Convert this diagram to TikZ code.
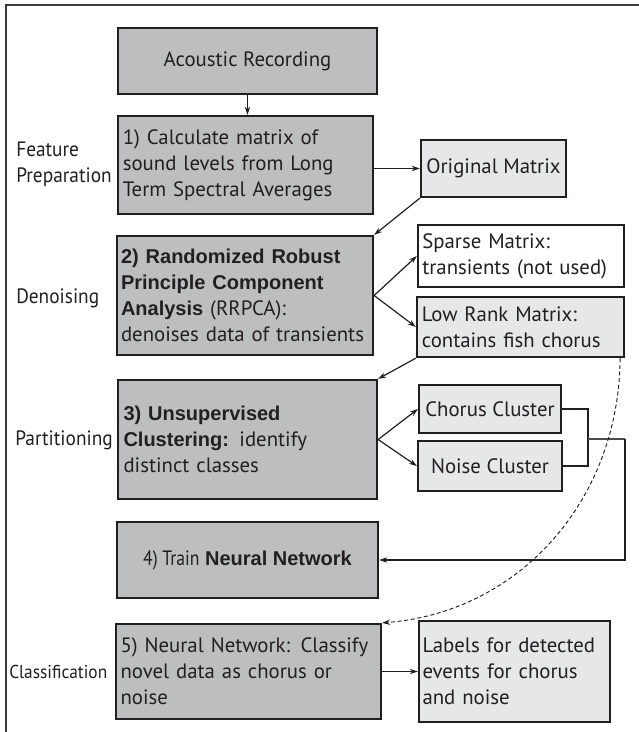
\documentclass[tikz,border=0pt]{standalone}
\usepackage{fontspec}
\setmainfont{PT Sans}
\newfontfamily\arialfont{Liberation Sans}
\newfontfamily\condfont{PT Sans}[FakeStretch=0.85]
\newfontfamily\sidefont{PT Sans}[FakeStretch=0.93]
\usetikzlibrary{arrows.meta,calc}

\hyphenpenalty=10000
\exhyphenpenalty=10000

\definecolor{ink}{HTML}{231F20}
\definecolor{darkfill}{HTML}{BCBEC0}
\definecolor{lightfill}{HTML}{E6E7E8}
\definecolor{framegray}{HTML}{3A3A3A}

% bold run-in heading text
\newcommand{\hd}[1]{{\arialfont\bfseries\fontsize{15}{19.5}\selectfont #1}}

\begin{document}
\begin{tikzpicture}[x=0.75pt,y=-0.75pt,
  every node/.style={text=ink, font=\fontsize{15.6}{19.5}\selectfont},
  stepbox/.style={draw=ink, line width=1.7pt, inner sep=0pt, align=left},
  darkbox/.style={stepbox, fill=darkfill},
  lightbox/.style={stepbox, fill=lightfill},
  whitebox/.style={stepbox, fill=white},
  conn/.style={draw=ink, line width=0.9pt, -{Stealth[length=6pt,width=4pt]}},
  bracket/.style={draw=ink, line width=1.4pt},
  feed/.style={draw=ink!80, line width=0.8pt},
  dashconn/.style={draw=ink, line width=0.7pt, dash pattern=on 3pt off 2pt, -{Stealth[length=6pt,width=4pt]}},
  stagelabel/.style={anchor=west, inner sep=0pt, align=left, font=\sidefont\fontsize{15.6}{19.5}\selectfont}]

\useasboundingbox (0,0) rectangle (639,732);

% frame
\draw[framegray, line width=1.5pt] (6,732) -- (6,5) -- (639,5);

% main pipeline
\node[darkbox, minimum width=194.25pt, minimum height=49.5pt, align=center] (rec) at (247.5,61) {Acoustic Recording};
\node[darkbox, minimum width=191.25pt, minimum height=73.5pt, text width=184pt] (prep) at (245.5,165)
  {1) Calculate matrix of\\sound levels from Long\\Term Spectral Averages};
\node[darkbox, minimum width=192pt, minimum height=89.25pt, text width=186pt] (rpca) at (245,295.5)
  {\hd{2) Randomized Robust}\\\hd{Principle Component}\\\hd{Analysis} (RRPCA):\\denoises data of transients};
\node[darkbox, minimum width=194.25pt, minimum height=89.25pt, text width=186pt] (clus) at (247.5,439.5)
  {\hd{3) Unsupervised}\\\hd{Clustering:} identify\\distinct classes};
\node[darkbox, minimum width=195.75pt, minimum height=57pt, align=center] (train) at (247.5,560)
  {{\condfont 4) Train} \hd{Neural Network}};
\node[darkbox, minimum width=198.75pt, minimum height=71.25pt, text width=192pt] (classify) at (248.5,671.5)
  {5) Neural Network: Classify\\novel data as chorus or\\noise};

% side results
\node[lightbox, minimum width=108.75pt, minimum height=42.75pt, align=center] (orig) at (493.5,168.5) {Original Matrix};
\node[whitebox, minimum width=154.5pt, minimum height=46.5pt, text width=148pt] (sparse) at (521,256)
  {Sparse Matrix:\\transients (not used)};
\node[lightbox, minimum width=155.25pt, minimum height=45pt, text width=148pt] (lowrank) at (520.5,327)
  {Low Rank Matrix:\\contains fish chorus};
\node[lightbox, minimum width=106.5pt, minimum height=36pt, align=center] (chorus) at (490,409) {Chorus Cluster};
\node[lightbox, minimum width=108pt, minimum height=37.5pt, align=center] (noise) at (490,466) {Noise Cluster};
\node[lightbox, minimum width=143.25pt, minimum height=75.75pt, text width=138pt] (labels) at (514.5,671.5)
  {Labels for detected\\events for chorus\\and noise};

% stage names
\node[stagelabel] (lfeat) at (16,164.5) {Feature\\Preparation};
\node[stagelabel] (lden) at (16,298) {Denoising};
\node[stagelabel] (lpart) at (15,440) {Partitioning};
\node[stagelabel, font=\sidefont\fontsize{14}{17}\selectfont] (lcls) at (9,672) {Classification};

% connectors
\draw[conn] (rec.south) -- (rec.south |- prep.north);
\draw[conn] (prep.east |- orig.west) -- (orig.west);
\draw[conn] (orig.south west) -- (rpca.north east);
\draw[conn] (rpca.east) -- (sparse.west);
\draw[conn] (rpca.east) -- (lowrank.west);
\draw[conn] (lowrank.south west) -- (clus.north east);
\draw[conn] (clus.east) -- (chorus.west);
\draw[conn] (clus.east) -- (noise.west);

\coordinate (join) at (588,439);
\coordinate (rightx) at (625,439);
\draw[bracket] (chorus.east) -| (join) |- (noise.east);
\draw[feed] (join) -- (rightx);
\draw[conn, line width=0.8pt] (rightx) |- (train.east);

\coordinate (dstart) at ($(lowrank.south east)+(-5,0)$);
\draw[dashconn] (dstart) .. controls (619,500) and (520,612) .. (classify.north east);

\draw[conn] (classify.east |- labels.west) -- (labels.west);
\end{tikzpicture}
\end{document}
